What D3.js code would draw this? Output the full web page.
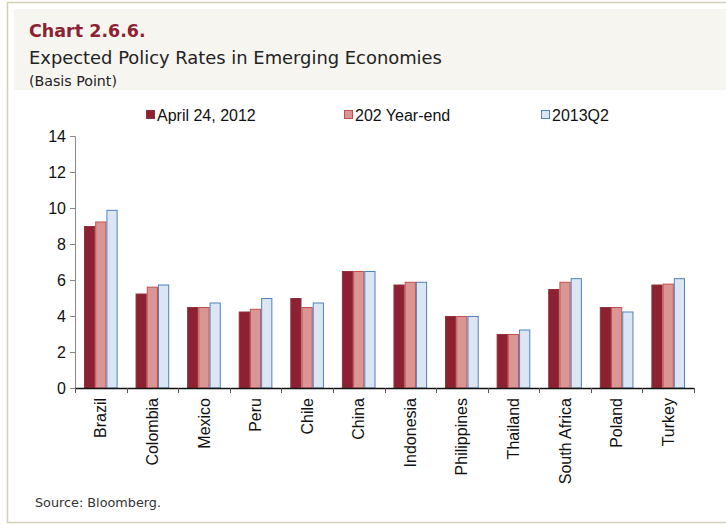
<!DOCTYPE html>
<html>
<head>
<meta charset="utf-8">
<script src="https://cdn.jsdelivr.net/npm/d3@7"></script>
<style>
  body { margin: 0; background: #fff; }
  svg { display: block; }
</style>
</head>
<body>
<div id="chart"></div>
<script>
// data
const countries = ["Brazil", "Colombia", "Mexico", "Peru", "Chile", "China", "Indonesia",
  "Philippines", "Thailand", "South Africa", "Poland", "Turkey"];
const seriesNames = ["April 24, 2012", "202 Year-end", "2013Q2"];
const april2012 = [9.0, 5.25, 4.5, 4.25, 5.0, 6.5, 5.75, 4.0, 3.0, 5.5, 4.5, 5.75];
const yearEnd2012 = [9.25, 5.63, 4.5, 4.4, 4.5, 6.5, 5.9, 4.0, 3.0, 5.9, 4.5, 5.8];
const q2_2013 = [9.9, 5.75, 4.75, 5.0, 4.75, 6.5, 5.9, 4.0, 3.25, 6.1, 4.25, 6.1];
const yTicks = [0, 2, 4, 6, 8, 10, 12, 14];

const W = 726, H = 525;
const fills = ["#8b2131", "#da9694", "#dce6f2"];
const strokes = ["#93303d", "#c0504d", "#4f81bd"];
const sans = "'Liberation Sans', Arial, sans-serif";
const gothic = "'DejaVu Sans', sans-serif";

const svg = d3.select("#chart").append("svg")
  .attr("width", W).attr("height", H);

// frame + header band
svg.append("rect").attr("x", 14).attr("y", 9).attr("width", W - 14).attr("height", 81)
  .attr("fill", "#f7f5f0");
svg.append("path").attr("d", `M${W},2.5 H7.5 V522.5 H${W}`)
  .attr("fill", "none").attr("stroke", "#d6cdb6").attr("stroke-width", 1.5);

svg.append("text").attr("x", 29).attr("y", 37)
  .style("font-family", gothic).style("font-weight", "bold").style("font-size", "17.5px")
  .attr("fill", "#8b2131").text("Chart 2.6.6.");
svg.append("text").attr("x", 29).attr("y", 64)
  .style("font-family", gothic).style("font-size", "17.9px")
  .attr("fill", "#222").text("Expected Policy Rates in Emerging Economies");
svg.append("text").attr("x", 29).attr("y", 86)
  .style("font-family", gothic).style("font-size", "14.2px")
  .attr("fill", "#222").text("(Basis Point)");
svg.append("text").attr("x", 35).attr("y", 507)
  .style("font-family", gothic).style("font-size", "12.8px")
  .attr("fill", "#333").text("Source: Bloomberg.");

// scales
const plot = { left: 75, right: 694, top: 136, bottom: 388 };
const x0 = d3.scaleBand().domain(countries).range([plot.left, plot.right]).padding(0);
const x1 = d3.scaleBand().domain(d3.range(3)).range([0, x0.bandwidth()])
  .paddingInner(0).paddingOuter(0.8);
const y = d3.scaleLinear().domain([0, 14]).range([plot.bottom, plot.top]);

const rows = countries.map((c, i) => ({
  country: c,
  values: [april2012[i], yearEnd2012[i], q2_2013[i]]
}));

// bars
const groups = svg.append("g").selectAll("g").data(rows).join("g")
  .attr("transform", d => `translate(${x0(d.country)},0)`);
groups.selectAll("rect").data(d => d.values.map((v, k) => ({ v, k }))).join("rect")
  .attr("x", d => x1(d.k) + 0.5)
  .attr("y", d => y(d.v) + 0.5)
  .attr("width", x1.bandwidth() - 1)
  .attr("height", d => y(0) - y(d.v) - 0.5)
  .attr("fill", d => fills[d.k])
  .attr("stroke", d => strokes[d.k])
  .attr("stroke-width", 1);

// y axis
const yAxis = d3.axisLeft(y).tickValues(yTicks).tickSize(5).tickPadding(4);
const gy = svg.append("g").attr("transform", `translate(${plot.left},0)`).call(yAxis);
gy.select(".domain").attr("stroke", "#888");
gy.selectAll(".tick line").attr("stroke", "#888");
gy.selectAll("text").style("font-family", sans).style("font-size", "16px").attr("fill", "#111");

// x axis: line with ticks at category boundaries
const gx = svg.append("g");
gx.append("line").attr("x1", plot.left).attr("x2", plot.right)
  .attr("y1", plot.bottom + 0.5).attr("y2", plot.bottom + 0.5)
  .attr("stroke", "#111").attr("stroke-width", 1.5);
gx.selectAll(".bt").data(countries.concat(["end"])).join("line")
  .attr("x1", (d, i) => Math.round(i < countries.length ? x0(d) : plot.right) + 0.5)
  .attr("x2", (d, i) => Math.round(i < countries.length ? x0(d) : plot.right) + 0.5)
  .attr("y1", plot.bottom).attr("y2", plot.bottom + 5)
  .attr("stroke", "#555");
gx.selectAll(".lab").data(countries).join("text")
  .attr("transform", d => `translate(${x0(d) + x0.bandwidth() / 2},398) rotate(-90)`)
  .attr("dy", "0.35em")
  .attr("text-anchor", "end")
  .style("font-family", sans).style("font-size", "16px").attr("fill", "#111")
  .text(d => d);

// legend
const legX = [146, 344, 541];
const leg = svg.append("g").selectAll("g").data(seriesNames).join("g")
  .attr("transform", (d, i) => `translate(${legX[i]},110)`);
leg.append("rect").attr("x", 0.5).attr("y", 0.5).attr("width", 8).attr("height", 8)
  .attr("fill", (d, i) => fills[i]).attr("stroke", (d, i) => strokes[i]);
leg.append("text").attr("x", 11).attr("y", 10.5)
  .style("font-family", sans).style("font-size", "16px").attr("fill", "#111")
  .text(d => d);
</script>
</body>
</html>
